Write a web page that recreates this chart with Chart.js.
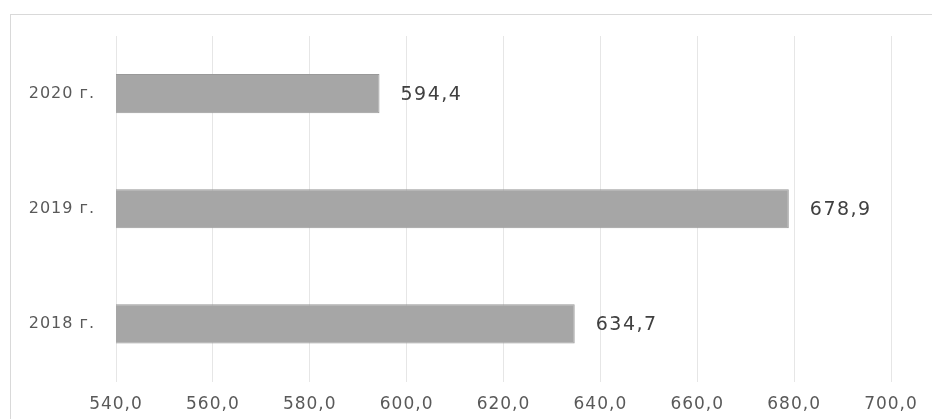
<!DOCTYPE html>
<html>
<head>
<meta charset="utf-8">
<script src="https://cdn.jsdelivr.net/npm/chart.js@4"></script>
<style>
  html, body { margin: 0; padding: 0; background: #fff; }
  #wrap { position: relative; width: 932px; height: 419px; overflow: hidden; }
</style>
</head>
<body>
<div id="wrap"><canvas id="chart" width="932" height="419"></canvas></div>
<script>
  const years = ['2020 г.', '2019 г.', '2018 г.'];
  const values = [594.4, 678.9, 634.7];
  const axisMin = 540;
  const axisMax = 700;
  const axisStep = 20;

  const fmt = v => v.toFixed(1).replace('.', ',');

  // frame + letter spacing (Excel export looks a bit stretched)
  const framePlugin = {
    id: 'frame',
    beforeDraw(chart) {
      const ctx = chart.ctx;
      ctx.save();
      ctx.fillStyle = '#fff';
      ctx.fillRect(0, 0, chart.width, chart.height);
      ctx.strokeStyle = '#d9d9d9';
      ctx.lineWidth = 1;
      ctx.strokeRect(10.5, 14.5, 940, 420);
      ctx.restore();
      ctx.letterSpacing = '1px';
    }
  };

  const valueLabels = {
    id: 'valueLabels',
    afterDatasetsDraw(chart) {
      const ctx = chart.ctx;
      const meta = chart.getDatasetMeta(0);
      ctx.save();
      ctx.letterSpacing = '1.5px';
      ctx.font = '19px "DejaVu Sans"';
      ctx.fillStyle = '#404040';
      ctx.textAlign = 'left';
      ctx.textBaseline = 'middle';
      meta.data.forEach((bar, i) => {
        ctx.fillText(fmt(values[i]), bar.x + 21, bar.y + 1);
      });
      ctx.restore();
    }
  };

  new Chart(document.getElementById('chart'), {
    type: 'bar',
    data: {
      labels: years,
      datasets: [{
        data: values,
        backgroundColor: '#a6a6a6',
        borderColor: '#999999',
        borderWidth: 1,
        barPercentage: 0.34,
        categoryPercentage: 1
      }]
    },
    options: {
      indexAxis: 'y',
      responsive: false,
      animation: false,
      layout: { padding: { top: 36, right: 41, left: 0, bottom: 0 } },
      plugins: { legend: { display: false }, tooltip: { enabled: false } },
      scales: {
        x: {
          min: axisMin,
          max: axisMax,
          border: { display: false },
          grid: { color: '#e6e6e6', drawTicks: false },
          ticks: {
            stepSize: axisStep,
            padding: 13,
            color: '#595959',
            font: { family: 'DejaVu Sans', size: 17 },
            callback: v => fmt(v)
          },
          afterFit(scale) { scale.height = 37.5; }
        },
        y: {
          border: { display: false },
          grid: { display: false, drawTicks: false },
          ticks: {
            padding: 21,
            color: '#595959',
            font: { family: 'DejaVu Sans', size: 16 }
          },
          afterFit(scale) { scale.width = 116; }
        }
      }
    },
    plugins: [framePlugin, valueLabels]
  });
</script>
</body>
</html>
